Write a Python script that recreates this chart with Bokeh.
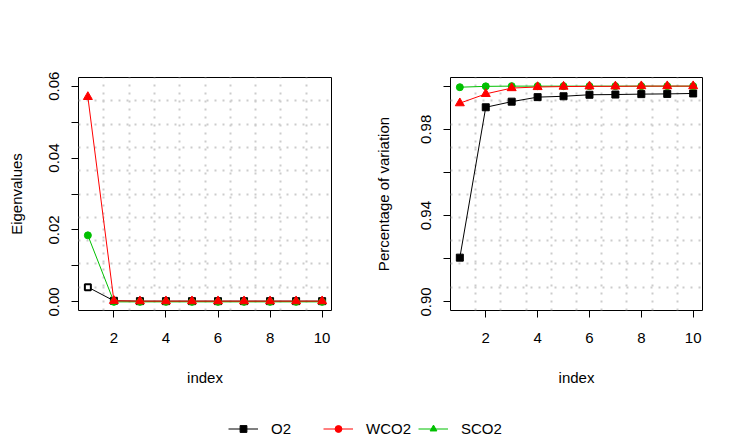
from bokeh.plotting import figure
from bokeh.layouts import column, row
from bokeh.models import Range1d, FixedTicker, Legend, LegendItem, ColumnDataSource
from bokeh.embed import file_html
from bokeh.resources import INLINE

# ---- data ----
index = [1, 2, 3, 4, 5, 6, 7, 8, 9, 10]
eig_O2 = [0.0041, 0.0003, 0.0002, 0.0002, 0.0002, 0.0002, 0.0002, 0.0002, 0.0002, 0.0002]
eig_WCO2 = [0.0570, 0.0003, 0.0002, 0.0002, 0.0002, 0.0002, 0.0002, 0.0002, 0.0002, 0.0002]
eig_SCO2 = [0.0185, 0.0000, 0.0000, 0.0000, 0.0000, 0.0000, 0.0000, 0.0000, 0.0000, 0.0000]

pct_O2 = [0.9205, 0.9902, 0.9928, 0.9949, 0.9953, 0.9960, 0.9961, 0.9963, 0.9964, 0.9966]
pct_WCO2 = [0.9921, 0.9964, 0.9991, 0.9996, 0.9998, 0.9999, 0.9999, 1.0000, 1.0000, 1.0000]
pct_SCO2 = [0.9995, 0.9999, 1.0000, 1.0000, 1.0000, 1.0000, 1.0000, 1.0000, 1.0000, 1.0000]

x_ticks = [2, 4, 6, 8, 10]
eig_ticks = [0.0, 0.01, 0.02, 0.03, 0.04, 0.05, 0.06]
eig_tick_labels = {0.0: "0.00", 0.01: "", 0.02: "0.02", 0.03: "", 0.04: "0.04", 0.05: "", 0.06: "0.06"}
pct_ticks = [0.90, 0.92, 0.94, 0.96, 0.98, 1.00]
pct_tick_labels = {0.90: "0.90", 0.92: "", 0.94: "0.94", 0.96: "", 0.98: "0.98", 1.00: ""}

series_names = ["O2", "WCO2", "SCO2"]
series_colors = ["black", "red", "#00C000"]

FONT = "Liberation Sans"
FS = "15px"
GRID_COLOR = "#CCCCCC"


def r_range(lo, hi):
    d = (hi - lo) * 0.04
    return lo - d, hi + d


def grid_positions(lo, hi, n=10):
    step = (hi - lo) / n
    return [lo + k * step for k in range(1, n)]


def make_panel(ylo, yhi, yticks, ylabels, ylabel, bl, br, fw, ax_std):
    x0, x1 = r_range(1, 10)
    y0, y1 = r_range(ylo, yhi)
    p = figure(frame_width=fw, frame_height=233,
               min_border_left=bl, min_border_right=br, min_border_top=77, min_border_bottom=83,
               x_range=Range1d(x0, x1), y_range=Range1d(y0, y1),
               output_backend="svg", toolbar_location=None)
    p.outline_line_color = "black"
    p.outline_line_width = 1
    p.background_fill_color = "white"
    p.border_fill_color = "white"
    p.xaxis.ticker = FixedTicker(ticks=x_ticks)
    p.yaxis.ticker = FixedTicker(ticks=yticks)
    p.yaxis.major_label_overrides = ylabels
    p.yaxis.major_label_orientation = "vertical"
    p.xaxis.axis_label = "index"
    p.yaxis.axis_label = ylabel
    for ax in (p.xaxis, p.yaxis):
        ax.axis_line_color = None
        ax.major_tick_line_color = "black"
        ax.major_tick_out = 7
        ax.major_tick_in = 0
        ax.minor_tick_line_color = None
        ax.major_label_text_font = FONT
        ax.major_label_text_font_size = FS
        ax.major_label_text_color = "black"
        ax.axis_label_text_font = FONT
        ax.axis_label_text_font_size = FS
        ax.axis_label_text_font_style = "normal"
        ax.axis_label_text_color = "black"
    p.xaxis.major_label_standoff = 15
    p.xaxis.axis_label_standoff = 23
    p.yaxis.major_label_standoff = 12
    p.yaxis.axis_label_standoff = ax_std
    p.xgrid.ticker = FixedTicker(ticks=grid_positions(x0, x1))
    p.ygrid.ticker = FixedTicker(ticks=grid_positions(y0, y1))
    for g in (p.xgrid, p.ygrid):
        g.grid_line_color = GRID_COLOR
        g.grid_line_width = 2
        g.grid_line_dash = "2 6"
    return p


# ---- left: eigenvalues ----
p1 = make_panel(0.0, 0.06, eig_ticks, eig_tick_labels, "Eigenvalues", 78, 40, 253, 22)
p1.line(index, eig_O2, line_color="black", line_width=1)
p1.scatter(index[1:], eig_O2[1:], marker="square", size=7, color="black")
p1.scatter(index[:1], eig_O2[:1], marker="square", size=6, fill_color="white", line_color="black", line_width=2)
p1.line(index, eig_SCO2, line_color=series_colors[2], line_width=1)
p1.scatter(index, eig_SCO2, marker="circle", size=7, color=series_colors[2])
p1.line(index, eig_WCO2, line_color="red", line_width=1)
p1.scatter(index, eig_WCO2, marker="triangle", size=9, color="red")

# ---- right: cumulative percentage ----
p2 = make_panel(0.90, 1.00, pct_ticks, pct_tick_labels, "Percentage of variation", 78, 33, 252, 27)
p2.line(index, pct_O2, line_color="black", line_width=1)
p2.scatter(index, pct_O2, marker="square", size=7, color="black")
p2.line(index, pct_SCO2, line_color=series_colors[2], line_width=1)
p2.scatter(index, pct_SCO2, marker="circle", size=7, color=series_colors[2])
p2.line(index, pct_WCO2, line_color="red", line_width=1)
p2.scatter(index, pct_WCO2, marker="triangle", size=9, color="red")

# ---- legend strip ----
p3 = figure(width=734, height=46, min_border=0, output_backend="svg", toolbar_location=None,
            x_range=Range1d(0, 1), y_range=Range1d(0, 1))
p3.axis.visible = False
p3.grid.visible = False
p3.outline_line_color = None
legend_markers = ["square", "circle", "triangle"]
nan = float("nan")
items = []
for name, col, mk in zip(series_names, series_colors, legend_markers):
    src = ColumnDataSource(data=dict(x=[nan], y=[nan]))
    lr = p3.line("x", "y", source=src, line_color=col, line_width=1)
    sr = p3.scatter("x", "y", source=src, marker=mk, color=col, size=7)
    items.append(LegendItem(label=name, renderers=[lr, sr]))
leg = Legend(items=items, orientation="horizontal", location=(228, 2),
             padding=0, margin=0, spacing=0, glyph_width=30, glyph_height=17,
             label_standoff=13, label_width=52,
             border_line_color=None, background_fill_alpha=0,
             label_text_font=FONT, label_text_font_size=FS, label_text_color="black")
p3.add_layout(leg, "center")

layout = column(row(p1, p2, spacing=0), p3, spacing=0)
open("out.html", "w").write(file_html(layout, INLINE))
